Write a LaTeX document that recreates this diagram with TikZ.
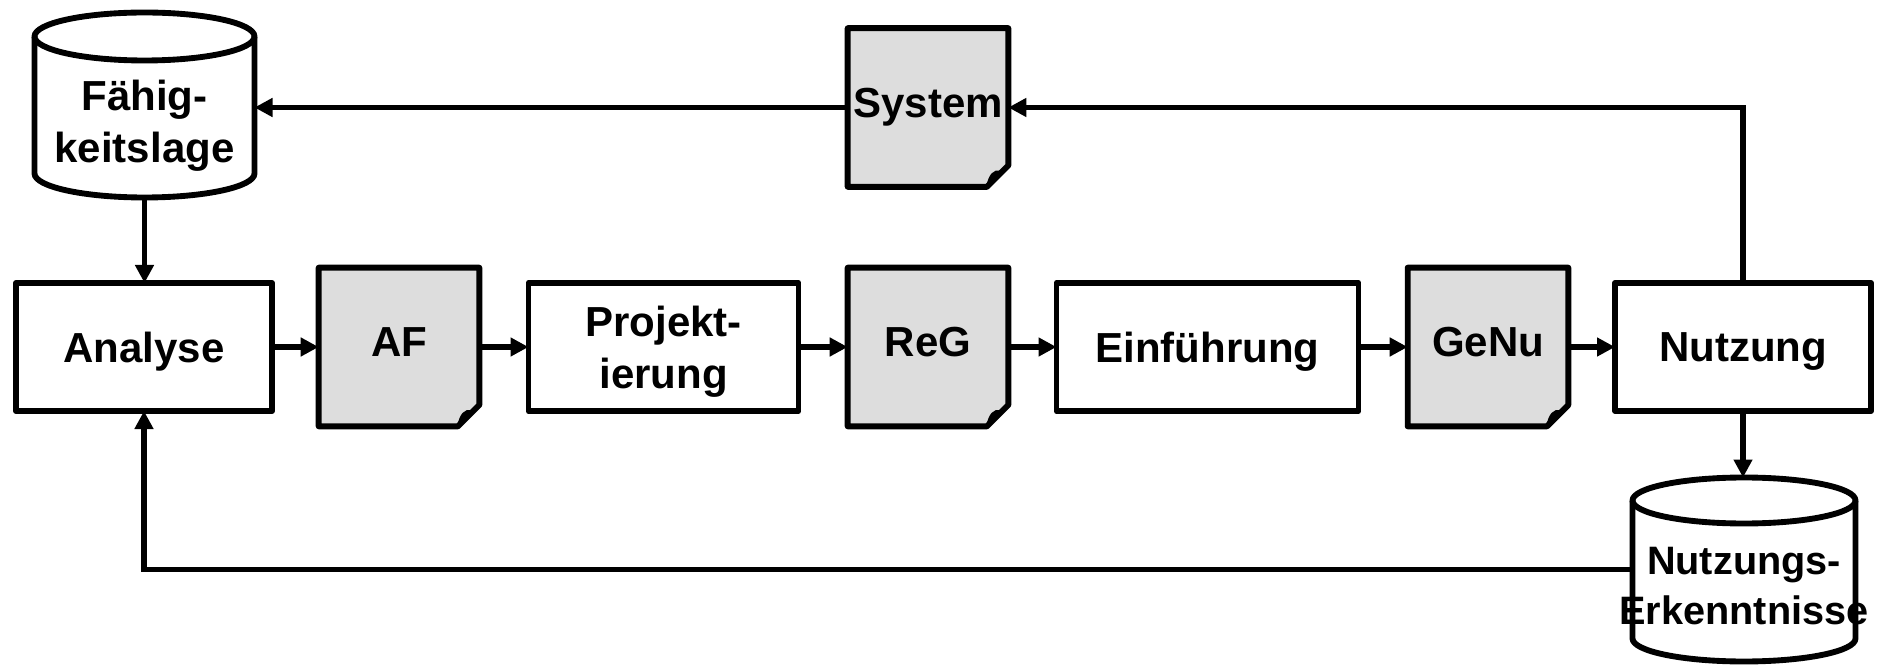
\documentclass[tikz,border=0pt]{standalone}
\usepackage{fontspec}
\setmainfont{Liberation Sans}
\usetikzlibrary{arrows.meta,backgrounds}
\definecolor{docgray}{HTML}{DDDDDD}
\tikzset{
  shapeline/.style={line width=4.4pt, line join=round},
  lbl/.style={font=\fontsize{31.5pt}{39pt}\selectfont\bfseries, align=center, inner sep=0pt, outer sep=0pt, text depth=0pt},
  stepbox/.style={lbl, draw, shapeline, fill=white, minimum height=96pt},
  docnode/.style={lbl, minimum width=120.5pt, minimum height=119pt, text depth=7pt},
  ghost/.style={inner sep=0pt, outer sep=0pt, draw=none},
  conn/.style={line width=4pt, -{Triangle[length=13.5pt,width=13.5pt]}},
}
\newcommand\docshape[1]{%
  \begin{scope}[on background layer]
    \filldraw[shapeline, fill=docgray] (#1.north west) -- (#1.north east) -- ([yshift=16pt]#1.south east) -- ([xshift=-16pt]#1.south east) -- (#1.south west) -- cycle;
    \filldraw[line width=1.4pt, line join=round] ([xshift=-16pt]#1.south east) .. controls ([xshift=-14pt,yshift=9pt]#1.south east) and ([xshift=-11pt,yshift=12.5pt]#1.south east) .. ([xshift=-6pt,yshift=11.5pt]#1.south east) -- ([yshift=16pt]#1.south east) -- cycle;
  \end{scope}}
\begin{document}
\begin{tikzpicture}[x=0.75pt,y=0.75pt]
\useasboundingbox (0,0) rectangle (1883,668);
% main row
\node[stepbox, minimum width=192pt] (an) at (144,321) {Analyse};
\node[docnode] (af) at (399,321) {AF};
\node[stepbox, minimum width=202.5pt] (pr) at (663.5,321) {Projekt-\\ierung};
\node[docnode] (reg) at (928,321) {ReG};
\node[stepbox, minimum width=226.5pt] (ei) at (1207.5,321) {Einführung};
\node[docnode] (genu) at (1488,321) {GeNu};
\node[stepbox, minimum width=192pt] (nu) at (1743,321) {Nutzung};
\node[docnode, minimum height=119pt] (sys) at (928,560.5) {System};
\docshape{af}
\docshape{reg}
\docshape{genu}
\docshape{sys}
% cylinder Faehigkeitslage
\filldraw[shapeline, fill=white] (34.5,631.5) -- (34.5,494.5) arc[start angle=180,end angle=360,x radius=110,y radius=24] -- (254.5,631.5) arc[start angle=0,end angle=180,x radius=110,y radius=24] -- cycle;
\draw[shapeline] (34.5,631.5) arc[start angle=180,end angle=360,x radius=110,y radius=24];
\node[ghost, minimum width=165pt, minimum height=138.75pt] (fl) at (144.5,563) {};
\node[lbl] (fltext) at (144.5,547) {Fähig-\\keitslage};
% cylinder Nutzungserkenntnisse
\filldraw[shapeline, fill=white] (1632.5,167.5) -- (1632.5,29.5) arc[start angle=180,end angle=360,x radius=111.5,y radius=23] -- (1855.5,167.5) arc[start angle=0,end angle=180,x radius=111.5,y radius=23] -- cycle;
\draw[shapeline] (1632.5,167.5) arc[start angle=180,end angle=360,x radius=111.5,y radius=23];
\node[ghost, minimum width=167.25pt, minimum height=138pt] (ne) at (1744,98.5) {};
\node[lbl, font=\fontsize{29.75pt}{37pt}\selectfont\bfseries] (netext) at (1744,82) {Nutzungs-\\Erkenntnisse};
% connectors
\draw[conn] (an.east) -- (an.east -| af.west);
\draw[conn] (af.east) -- (af.east -| pr.west);
\draw[conn] (pr.east) -- (pr.east -| reg.west);
\draw[conn] (reg.east) -- (reg.east -| ei.west);
\draw[conn] (ei.east) -- (ei.east -| genu.west);
\draw[conn] (genu.east) -- (genu.east -| nu.west);
\draw[conn] (sys.west) -- (sys.west -| fl.east);
\draw[conn] (nu.north) |- (sys.east);
\draw[conn] (fl.south) -- (fl.south |- an.north);
\draw[conn] (nu.south) -- (nu.south |- ne.north);
\draw[conn] (ne.west) -| (an.south);
\end{tikzpicture}
\end{document}
